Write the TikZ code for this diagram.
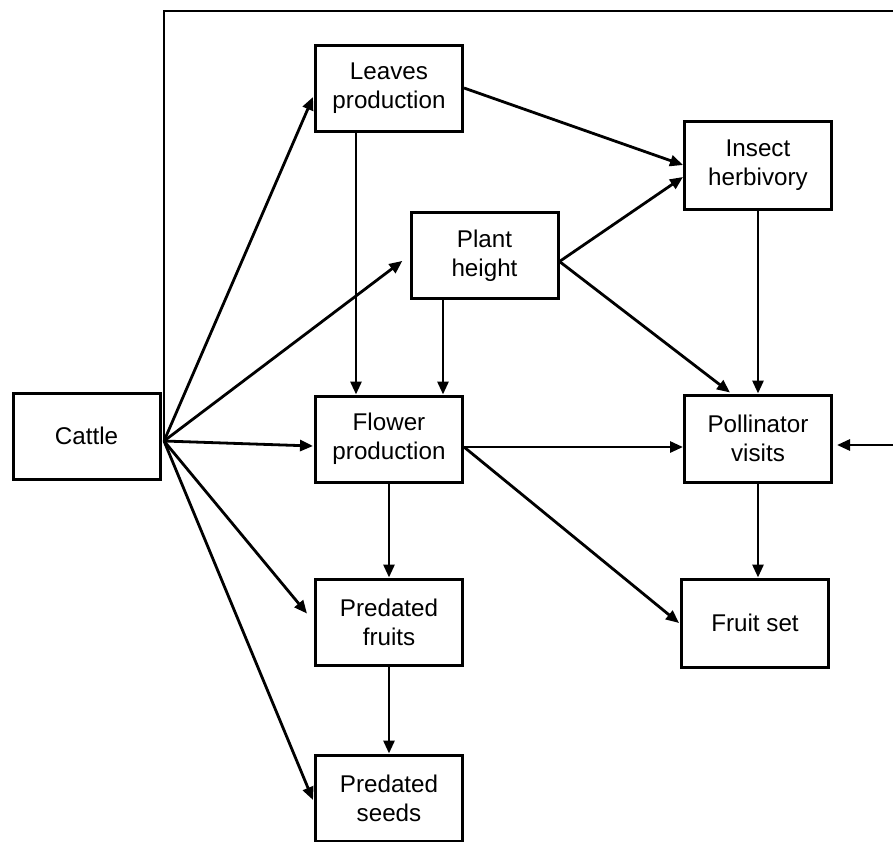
\documentclass[tikz,border=0pt]{standalone}
\usepackage{fontspec}
\setmainfont{Liberation Sans}
\usetikzlibrary{arrows.meta,calc}
\begin{document}
\begin{tikzpicture}[x=1pt,y=-1pt,
  box/.style={draw,line width=3pt,minimum width=147pt,minimum height=86pt,inner sep=0pt,align=center,font=\fontsize{24.2}{29}\selectfont},
  arr/.style={line width=2.8pt,-{Triangle[length=13pt,width=11pt]}},
  ln/.style={line width=2.8pt}]
\useasboundingbox (0,0) rectangle (893,841);
\node[box] (cattle) at (86.5,436) {Cattle};
\node[box] (leaves) at (389,88) {Leaves\\production};
\node[box] (plant) at (484.5,255.5) {Plant\\height};
\node[box,minimum height=88pt] (insect) at (758,165) {Insect\\herbivory};
\node[box] (flower) at (389,439) {Flower\\production};
\node[box,minimum height=87pt] (poll) at (758,438.5) {Pollinator\\visits};
\node[box] (pfruits) at (389,622) {Predated\\fruits};
\node[box,minimum height=88pt] (fruitset) at (755,623) {Fruit set};
\node[box] (pseeds) at (389,798) {Predated\\seeds};
% frame line
\coordinate (co) at (164,441);
\coordinate (tl) at (164,11);
\coordinate (tr) at (897,11);
\coordinate (rr) at (897,445);
\draw[ln,line join=miter] (co) -- (tl) -- (tr) -- (rr);
\draw[arr,shorten >=4pt] (rr) -- (poll.east |- rr);
% from cattle
\draw[arr] (co) -- ($(leaves.west)+(-1,9)$);
\draw[arr,shorten >=9pt] (co) -- (plant.west);
\draw[arr] (co) -- ($(flower.west)+(-1,7)$);
\draw[arr,shorten >=11pt] (co) -- (pfruits.west);
\draw[arr] (co) -- ($(pseeds.west)+(-1,2)$);
% others
\draw[arr] (leaves.east) -- (insect.west);
\draw[arr] ($(plant.east)+(0,6)$) -- ($(insect.west)+(0,12)$);
\draw[arr] ($(plant.east)+(0,6)$) -- ($(poll.north)+(-28,-1)$);
\draw[arr] (insect.south) -- (poll.north);
\draw[arr] ($(leaves.south)+(-33,0)$) -- ($(flower.north)+(-33,0)$);
\draw[arr] ($(plant.south)+(-41.5,0)$) -- ($(flower.north)+(54,0)$);
\draw[arr] ($(flower.east)+(0,8)$) -- ($(poll.west)+(0,8.5)$);
\draw[arr] ($(flower.east)+(0,8)$) -- ($(fruitset.west)+(-1,0)$);
\draw[arr] (flower.south) -- (pfruits.north);
\draw[arr] (pfruits.south) -- (pseeds.north);
\draw[arr] (poll.south) -- (poll.south |- fruitset.north);
\end{tikzpicture}
\end{document}
